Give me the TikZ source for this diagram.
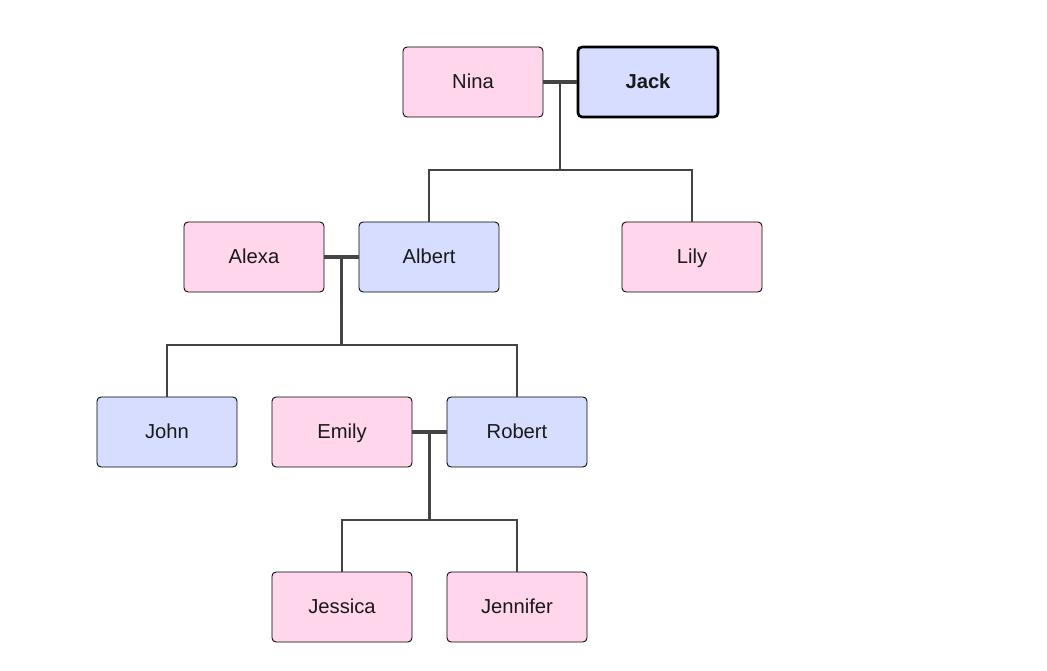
\documentclass[tikz,border=0pt]{standalone}
\usepackage{fontspec}
\setmainfont{Liberation Sans}
\usetikzlibrary{calc}
\definecolor{herfill}{RGB}{255,214,236}
\definecolor{hisfill}{RGB}{214,221,255}
\definecolor{linkgray}{RGB}{68,68,68}
\tikzset{
	person/.style={draw=black, line width=0.5pt, rounded corners=2.3pt, minimum width=2.8cm, minimum height=1.4cm, inner sep=0pt, text height=1.75ex, text depth=0.3ex, font=\fontsize{11.5}{13}\selectfont, text=black!90},
	her/.style={person, fill=herfill},
	him/.style={person, fill=hisfill},
	couple/.style={draw=linkgray, line width=2.4pt},
	kid/.style={draw=linkgray, line width=1.2pt}
}

\begin{document}
\begin{tikzpicture}[x=0.02cm, y=-0.02cm]
			%%%%% START %%%%%
			
			\useasboundingbox (0, 0) rectangle (1047, 671);
			
			\node[her] (nina) at (473, 82) {Nina};
			\node[him, line width=1.5pt, font=\fontsize{11.5}{13}\selectfont\bfseries] (jack) at (648, 82) {Jack};
			
			\node[her] (alexa) at (254, 257) {Alexa};
			\node[him] (albert) at (429, 257) {Albert};
			\node[her] (lily) at (692, 257) {Lily};
			
			\node[him] (john) at (167, 432) {John};
			\node[her] (emily) at (342, 432) {Emily};
			\node[him] (robert) at (517, 432) {Robert};
			
			\node[her] (jessica) at (342, 607) {Jessica};
			\node[her] (jennifer) at (517, 607) {Jennifer};
			
			\draw[couple] (nina.east) -- coordinate (m1) (jack.west);
			\coordinate (bar1) at (m1 |- 0, 170);
			\draw[kid] (m1) -- (bar1);
			\draw[kid] (albert.north) |- (bar1) -| (lily.north);
			
			\draw[couple] (alexa.east) -- coordinate (m2) (albert.west);
			\coordinate (bar2) at (m2 |- 0, 345);
			\draw[kid] (m2) -- (bar2);
			\draw[kid] (john.north) |- (bar2) -| (robert.north);
			
			\draw[couple] (emily.east) -- coordinate (m3) (robert.west);
			\coordinate (bar3) at (m3 |- 0, 520);
			\draw[kid] (m3) -- (bar3);
			\draw[kid] (jessica.north) |- (bar3) -| (jennifer.north);
			
			%%%%% END %%%%%
		\end{tikzpicture}
\end{document}
